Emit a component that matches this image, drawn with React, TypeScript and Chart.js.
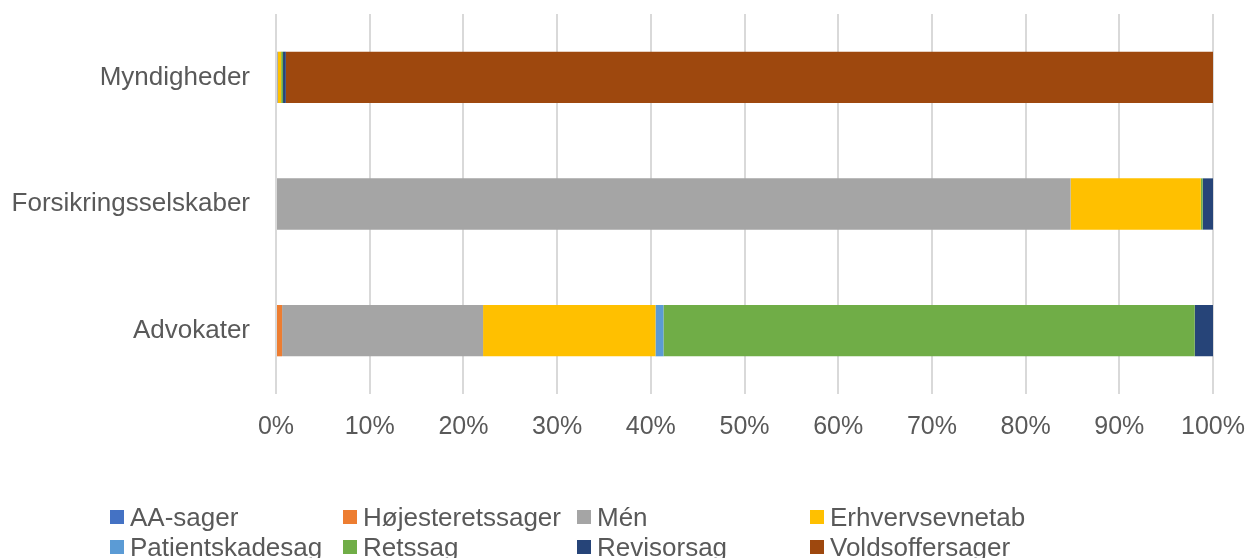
import React, { useEffect, useRef } from "react";
import { Chart, registerables } from "chart.js";

Chart.register(...registerables);

const categories = ["Myndigheder", "Forsikringsselskaber", "Advokater"];
const seriesNames = [
  "AA-sager",
  "Højesteretssager",
  "Mén",
  "Erhvervsevnetab",
  "Patientskadesag",
  "Retssag",
  "Revisorsag",
  "Voldsoffersager",
];
const seriesColors = [
  "#4472c4",
  "#ed7d31",
  "#a5a5a5",
  "#ffc000",
  "#5b9bd5",
  "#70ad47",
  "#264478",
  "#9e480e",
];
const aaSager = [0, 0, 0];
const hojesteretssager = [0, 0, 0.65];
const men = [0.2, 84.8, 21.45];
const erhvervsevnetab = [0.35, 13.9, 18.4];
const patientskadesag = [0, 0, 0.85];
const retssag = [0.2, 0.2, 56.7];
const revisorsag = [0.3, 1.1, 1.95];
const voldsoffersager = [98.95, 0, 0];
const seriesValues = [
  aaSager,
  hojesteretssager,
  men,
  erhvervsevnetab,
  patientskadesag,
  retssag,
  revisorsag,
  voldsoffersager,
];
const xTickStep = 10;
const xMax = 100;

const W = 1248;
const H = 558;
const FONT = '"Liberation Sans", Arial, sans-serif';
const TEXT = "#595959";

const legendCols = [110, 343, 577, 810];
const legendRowTop = [510, 540];

export default function App() {
  const ref = useRef<HTMLCanvasElement | null>(null);

  useEffect(() => {
    if (!ref.current) return;
    const chart = new Chart(ref.current, {
      type: "bar",
      data: {
        labels: categories,
        datasets: seriesNames.map((name, i) => ({
          label: name,
          data: seriesValues[i],
          backgroundColor: seriesColors[i],
          borderWidth: 0,
          barPercentage: 0.405,
          categoryPercentage: 1,
        })),
      },
      options: {
        indexAxis: "y",
        responsive: false,
        animation: false,
        devicePixelRatio: 1,
        layout: { padding: { top: 14, right: 35, bottom: 0, left: 0 } },
        plugins: {
          legend: { display: false },
          tooltip: { enabled: false },
        },
        scales: {
          x: {
            stacked: true,
            min: 0,
            max: xMax,
            grid: { color: "#d9d9d9", lineWidth: 2, drawTicks: false },
            border: { display: false },
            ticks: {
              stepSize: xTickStep,
              padding: 18,
              color: TEXT,
              font: { family: FONT, size: 25 },
              callback: (v: any) => `${v}%`,
            },
            afterFit: (s: any) => {
              s.height = H - 394;
              s.paddingLeft = 0;
              s.paddingRight = 0;
            },
          },
          y: {
            stacked: true,
            grid: { display: false, drawTicks: false },
            border: { display: false },
            ticks: {
              padding: 26,
              color: TEXT,
              font: { family: FONT, size: 26 },
            },
            afterFit: (s: any) => {
              s.width = 276;
              s.paddingTop = 0;
              s.paddingBottom = 0;
            },
          },
        },
      },
    });
    return () => chart.destroy();
  }, []);

  return (
    <div
      style={{
        position: "fixed",
        left: 0,
        top: 0,
        width: W,
        height: H,
        overflow: "hidden",
        background: "#ffffff",
      }}
    >
      <canvas ref={ref} width={W} height={H} style={{ position: "absolute", left: 0, top: 0 }} />
      {seriesNames.map((name, i) => {
        const col = i % 4;
        const row = Math.floor(i / 4);
        return (
          <div
            key={name}
            style={{
              position: "absolute",
              left: legendCols[col],
              top: legendRowTop[row] - 8,
              height: 30,
              whiteSpace: "nowrap",
            }}
          >
            <span
              style={{
                position: "absolute",
                left: 0,
                top: 8,
                width: 14,
                height: 14,
                background: seriesColors[i],
              }}
            />
            <span
              style={{
                position: "absolute",
                left: 20,
                top: 0,
                fontFamily: FONT,
                fontSize: 26,
                lineHeight: "30px",
                color: TEXT,
              }}
            >
              {name}
            </span>
          </div>
        );
      })}
    </div>
  );
}
